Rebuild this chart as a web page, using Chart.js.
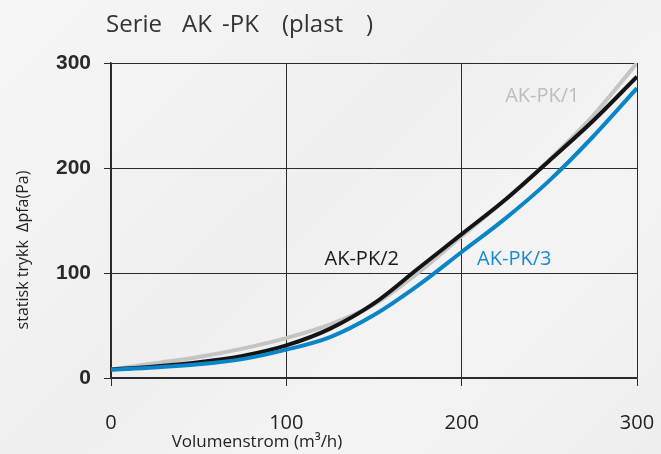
<!DOCTYPE html>
<html>
<head>
<meta charset="utf-8">
<script src="https://cdn.jsdelivr.net/npm/chart.js@4.4.1/dist/chart.umd.min.js"></script>
<style>
  html, body { margin: 0; padding: 0; }
  body {
    width: 661px; height: 454px; overflow: hidden;
    background: linear-gradient(135deg, #f6f6f6 0%, #efefef 45%, #f4f4f4 70%, #eeeeee 100%);
  }
  canvas { display: block; }
</style>
</head>
<body>
<canvas id="chart" width="661" height="454"></canvas>
<script>
// flow (m3/h)
const flow = [0, 25, 50, 75, 100, 125, 150, 175, 200, 225, 250, 275, 300];
// static pressure (Pa) per model
const akpk1 = [8, 14, 20, 28, 38, 51, 70, 100, 135, 170, 208, 250, 300];
const akpk2 = [8, 11, 15, 21, 31, 47, 71, 104, 137, 170, 207, 245, 287];
const akpk3 = [8, 10, 13, 18, 27, 39, 60, 88, 120, 152, 188, 230, 276];
const xTicks = [0, 100, 200, 300];
const yTicks = [0, 100, 200, 300];

const seriesNames = ['AK-PK/1', 'AK-PK/2', 'AK-PK/3'];
const seriesColors = ['#c4c4c4', '#141414', '#0a86c8'];

function toPoints(ys) {
    return flow.map(function (x, i) { return { x: x, y: ys[i] }; });
}

// titles and in-plot labels
const textPlugin = {
    id: 'texts',
    afterDraw: function (chart) {
        const ctx = chart.ctx;
        const xs = chart.scales.x;
        const ys = chart.scales.y;
        ctx.save();
        ctx.fillStyle = '#333';
        ctx.font = '24px "Open Sans"';
        ctx.textBaseline = 'middle';
        ctx.textAlign = 'left';
        // the title words are spaced out in the original
        ctx.fillText('Serie', 106, 25);
        ctx.fillText('AK', 182, 25);
        ctx.fillText('-PK', 222, 25);
        ctx.fillText('(plast', 282, 25);
        ctx.textAlign = 'right';
        ctx.fillText(')', 373, 25);

        ctx.font = '17px "Open Sans"';
        ctx.textAlign = 'center';
        ctx.fillStyle = '#222';
        ctx.fillText('Volumenstrom (m\u00B3/h)', 257, 442);

        ctx.save();
        ctx.translate(23, 250);
        ctx.rotate(-Math.PI / 2);
        ctx.font = '16px "Open Sans"';
        ctx.fillText('statisk trykk  \u0394pfa(Pa)', 0, 0);
        ctx.restore();

        const labels = [
            { text: seriesNames[0], x: 246, y: 268, color: '#bdbdbd' },
            { text: seriesNames[1], x: 143, y: 113, color: '#1a1a1a' },
            { text: seriesNames[2], x: 230, y: 113, color: '#1a8ad0' }
        ];
        ctx.font = '20px "Open Sans"';
        labels.forEach(function (l) {
            ctx.fillStyle = l.color;
            ctx.fillText(l.text, xs.getPixelForValue(l.x), ys.getPixelForValue(l.y));
        });
        ctx.restore();
    }
};

const lineDataset = function (idx, ys, order) {
    return {
        label: seriesNames[idx],
        data: toPoints(ys),
        borderColor: seriesColors[idx],
        borderWidth: 4,
        pointRadius: 0,
        cubicInterpolationMode: 'monotone',
        fill: false,
        order: order
    };
};

new Chart(document.getElementById('chart').getContext('2d'), {
    type: 'line',
    data: {
        datasets: [
            lineDataset(0, akpk1, 3),
            lineDataset(1, akpk2, 2),
            lineDataset(2, akpk3, 1)
        ]
    },
    options: {
        responsive: false,
        animation: false,
        layout: { padding: { top: 63, right: 24, bottom: 0, left: 0 } },
        plugins: {
            legend: { display: false },
            title: { display: false },
            tooltip: { enabled: false }
        },
        scales: {
            x: {
                type: 'linear',
                min: 0,
                max: 300,
                afterBuildTicks: function (scale) {
                    scale.ticks = xTicks.map(function (v) { return { value: v }; });
                },
                afterFit: function (scale) {
                    scale.height = 76;
                    scale.paddingLeft = 0;
                    scale.paddingRight = 0;
                },
                grid: { color: '#2a2a2a', lineWidth: 1, tickLength: 8 },
                border: { color: '#2a2a2a', width: 1.5 },
                ticks: {
                    color: '#222',
                    padding: 25,
                    maxRotation: 0,
                    font: { family: 'Open Sans', size: 20 }
                }
            },
            y: {
                min: 0,
                max: 300,
                afterBuildTicks: function (scale) {
                    scale.ticks = yTicks.map(function (v) { return { value: v }; });
                },
                afterFit: function (scale) { scale.width = 111; },
                grid: { color: '#2a2a2a', lineWidth: 1, tickLength: 7 },
                border: { color: '#2a2a2a', width: 1.5 },
                ticks: {
                    color: '#2a2a2a',
                    padding: 13,
                    font: { family: 'Liberation Sans', size: 21, weight: 'bold' }
                }
            }
        }
    },
    plugins: [textPlugin]
});
</script>
</body>
</html>
